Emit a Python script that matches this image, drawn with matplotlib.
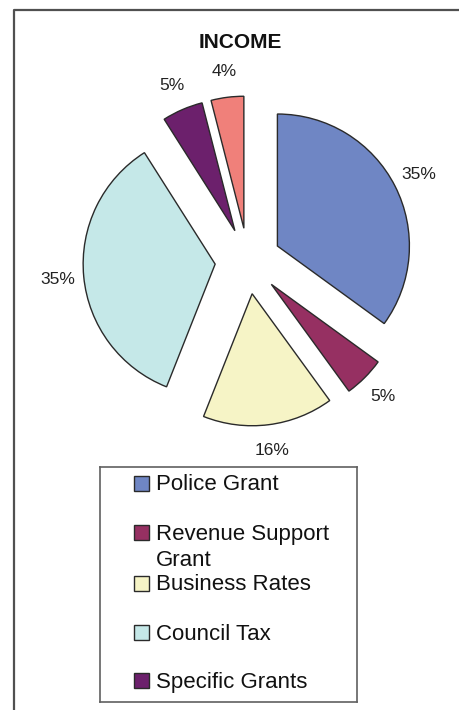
import matplotlib
matplotlib.use("Agg")
import matplotlib.pyplot as plt
from matplotlib.patches import Rectangle
from matplotlib.lines import Line2D

plt.rcParams["font.family"] = ["Liberation Sans", "DejaVu Sans"]

# Income breakdown (percent)
sources = ["Police Grant", "Revenue Support Grant", "Business Rates",
           "Council Tax", "Specific Grants", "Other"]
shares = [35, 5, 16, 35, 5, 4]
colours = ["#6F86C4", "#963062", "#F6F4C6", "#C5E8E8", "#6C206C", "#F0807A"]
legend_labels = ["Police Grant", "Revenue Support\nGrant", "Business Rates",
                 "Council Tax", "Specific Grants"]

W, H = 459, 710
fig = plt.figure(figsize=(W / 100, H / 100), dpi=100)


def box(x0, y0, x1, y1):
    # pixel box (top-left origin) -> figure fraction rect
    return [x0 / W, 1 - y1 / H, (x1 - x0) / W, (y1 - y0) / H]


# outer chart frame (runs off the right/bottom edge)
fig.add_artist(Line2D([14 / W, 14 / W, 1.05], [-0.05, 1 - 9.5 / H, 1 - 9.5 / H],
                      transform=fig.transFigure, color="#505050", lw=1.6))

fig.text(240 / W, 1 - 43 / H, "INCOME", ha="center", va="center",
         fontsize=15, fontweight="bold", color="#111111")

# pie: centre at (248, 261) px, radius 132 px
R = 132.0
S = 200.0
ax = fig.add_axes(box(248 - S, 261 - S, 248 + S, 261 + S))
wedges, _, pcts = ax.pie(shares, colors=colours, startangle=90, counterclock=False,
                         explode=[0.25] * len(shares), autopct="%1.0f%%",
                         pctdistance=1.2,
                         wedgeprops=dict(edgecolor="#2a2a2a", linewidth=1.0))
for t in pcts:
    t.set_fontsize(12.5)
    t.set_color("#222222")
ax.set_xlim(-S / R, S / R)
ax.set_ylim(-S / R, S / R)
ax.set_aspect("equal")
ax.axis("off")

# legend box
lx0, ly0, lx1, ly1 = 100, 467, 357, 702
lax = fig.add_axes(box(lx0, ly0, lx1, ly1))
lax.set_xlim(lx0, lx1)
lax.set_ylim(ly1, ly0)
lax.set_xticks([])
lax.set_yticks([])
for sp in lax.spines.values():
    sp.set_color("#606060")
    sp.set_linewidth(1.2)

row_y = [483, 532.5, 583, 632.5, 680.5]
for label, col, y in zip(legend_labels, colours, row_y):
    lax.add_patch(Rectangle((133.5, y - 7.5), 15, 15, facecolor=col,
                            edgecolor="#2a2a2a", linewidth=1.0))
    lines = label.split("\n")
    for k, line in enumerate(lines):
        lax.text(155.5, y + 7.5 + 26 * k, line, ha="left", va="baseline",
                 fontsize=16, color="#111111")

fig.savefig("out.png", dpi=100)
